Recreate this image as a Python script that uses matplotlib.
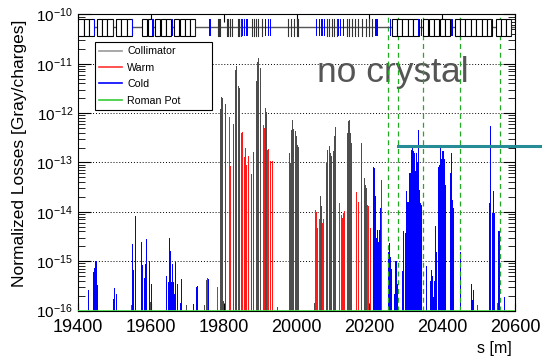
import numpy as np
import matplotlib
matplotlib.use('Agg')
import matplotlib.pyplot as plt
from matplotlib.patches import Rectangle
from matplotlib.lines import Line2D
from matplotlib.ticker import FixedLocator, NullFormatter

plt.rcParams['font.family'] = ['Liberation Sans', 'DejaVu Sans']
plt.rcParams['mathtext.fontset'] = 'custom'
plt.rcParams['mathtext.rm'] = 'Liberation Sans'
plt.rcParams['mathtext.it'] = 'Liberation Sans:italic'

floor = 1e-16

# collimator losses (s [m], value)
coll_s = [19547, 19599, 19697, 19747, 19752, 19756, 19790, 19794, 19796, 19799,
          19805, 19828, 19832, 19836, 19840, 19844, 19877, 19881, 19883, 19891,
          19894, 19897, 19901, 19915, 19918, 19947, 19980, 19983, 19987, 19990,
          19993, 19996, 19999, 20002, 20005, 20049, 20066, 20069, 20083, 20086,
          20090, 20094, 20097, 20101, 20105, 20108, 20140, 20142, 20145, 20148,
          20152, 20179, 20186, 20189, 20193, 20234, 20243, 20497, 20551]
coll_v = [1.3e-16, 1.5e-16, 1.3e-16, 1.3e-16, 4.2e-16, 4.5e-16, 1.2e-12, 2.1e-12, 2.0e-12, 1.55e-16,
          1.5e-12, 6.0e-13, 7.6e-12, 8.9e-12, 3.5e-12, 3.2e-12, 5.8e-14, 7.6e-14, 1.6e-13, 4.4e-12,
          1.07e-11, 1.3e-11, 8.1e-12, 1.3e-12, 1.07e-12, 1.2e-16, 1.55e-13, 9.8e-14, 4.6e-13, 7.2e-13,
          4.8e-13, 4.3e-13, 3.5e-13, 2.3e-13, 2.1e-13, 1.4e-16, 2.1e-14, 1.3e-14, 9.8e-14, 1.8e-13,
          2.2e-13, 1.55e-13, 1.35e-13, 1.7e-13, 3.4e-13, 5.2e-13, 3.9e-13, 6.8e-13, 7.2e-13, 3.9e-13,
          2.5e-13, 2.5e-13, 4.8e-14, 3.5e-14, 3.0e-14, 4.5e-14, 5.0e-15, 1.3e-16, 1.4e-16]

# warm magnet losses
warm_s = [19782, 19815, 19819, 19848, 19853, 19857, 19860, 19864, 19868, 19909,
          19912, 19921, 19924, 19929, 19933, 20051, 20054, 20057, 20063, 20072,
          20075, 20117, 20119, 20123, 20127, 20130, 20133, 20165, 20169, 20195,
          20199, 20202]
warm_v = [2.95e-16, 8.3e-13, 8.5e-14, 3.9e-13, 4.1e-13, 1.3e-13, 2.0e-13, 8.9e-14, 1.35e-13, 5.8e-13,
          5.0e-13, 1.8e-13, 1.9e-13, 1.05e-13, 1.05e-13, 1.1e-14, 1.0e-14, 4.7e-15, 7.2e-15, 6.0e-15,
          7.1e-15, 1.2e-14, 1.5e-14, 8.7e-15, 7.4e-15, 9.3e-15, 1.05e-14, 2.5e-14, 1.6e-14, 1.4e-14,
          1.3e-14, 4.7e-15]

# cold magnet losses
cold_s = [19428, 19442, 19446, 19449, 19452, 19454, 19497, 19500, 19506, 19549,
          19552, 19557, 19559, 19573, 19575, 19577, 19582, 19585, 19587, 19589,
          19595, 19601, 19603, 19642, 19649, 19651, 19653, 19656, 19659, 19662,
          19664, 19667, 19669, 19672, 19681, 19685, 19718, 19725, 19729, 19757,
          19759, 20211, 20213, 20216, 20219, 20222, 20224, 20227, 20231, 20252,
          20255, 20259, 20262, 20268, 20271, 20275, 20278, 20290, 20294, 20298,
          20302, 20305, 20308, 20311, 20314, 20317, 20319, 20322, 20324, 20327,
          20330, 20332, 20335, 20337, 20341, 20344, 20357, 20368, 20371, 20374,
          20376, 20379, 20382, 20385, 20389, 20392, 20395, 20398, 20400, 20403,
          20406, 20409, 20423, 20426, 20429, 20432, 20450, 20481, 20484, 20487,
          20531, 20534, 20537, 20540, 20543, 20554, 20557, 20571]
cold_v = [2.6e-16, 5.9e-16, 7.4e-16, 1.0e-15, 1.0e-15, 3.3e-16, 1.7e-16, 2.9e-16, 2.2e-16, 2.2e-15,
          6.6e-16, 8.3e-15, 8.1e-15, 1.7e-15, 2.4e-15, 8.3e-16, 4.5e-16, 8.7e-16, 2.8e-15, 1.0e-15,
          1.0e-15, 2.9e-16, 3.5e-16, 5.0e-16, 3.8e-16, 2.9e-15, 1.6e-15, 3.8e-16, 8.7e-16, 3.8e-16,
          2.2e-16, 9.5e-16, 2.4e-16, 3.4e-16, 1.4e-16, 4.4e-16, 1.35e-16, 3.0e-16, 3.1e-16, 4.3e-16,
          4.3e-16, 8.1e-14, 7.9e-14, 2.1e-14, 2.9e-15, 4.3e-15, 2.5e-15, 4.3e-15, 1.2e-14, 1.5e-15,
          2.3e-15, 1.2e-15, 6.9e-16, 2.2e-16, 1.0e-15, 1.0e-15, 3.5e-16, 6.2e-16, 4.0e-15, 3.7e-15,
          2.6e-14, 1.6e-14, 1.6e-14, 6.0e-14, 6.0e-14, 1.8e-13, 2.1e-13, 1.7e-13, 1.55e-13, 6.6e-14,
          1.55e-13, 1.0e-13, 4.5e-13, 2.8e-14, 1.5e-14, 1.4e-14, 7.8e-16, 4.0e-16, 6.6e-16, 4.9e-16,
          1.9e-16, 4.0e-16, 5.1e-15, 1.55e-15, 8.1e-14, 8.9e-14, 2.1e-13, 1.2e-13, 1.7e-13, 1.7e-13,
          1.2e-13, 3.5e-14, 6.0e-14, 1.55e-13, 1.7e-14, 1.2e-14, 1.55e-15, 3.5e-16, 1.6e-16, 2.6e-16,
          1.5e-14, 5.5e-13, 9.3e-15, 2.6e-14, 9.3e-15, 4.0e-15, 4.0e-15, 1.9e-16]

# machine layout strip at the top
dipole_s = [19401, 19416, 19431, 19451, 19466, 19481, 19504, 19519, 19534, 19576,
            19591, 19612, 19627, 19642, 19664, 19679, 19694, 19708, 20261, 20276,
            20291, 20306, 20321, 20348, 20363, 20378, 20393, 20408, 20434, 20449,
            20464, 20479, 20494, 20509, 20522, 20547, 20562, 20576]
dipole_len = 14.3
quad_s = [19446, 19498, 19550, 19606, 19659, 19722, 19760, 19764, 19852, 19858,
          19864, 19915, 19922, 19928, 20055, 20062, 20070, 20076, 20116, 20122,
          20128, 20216, 20221, 20257, 20336, 20342, 20427, 20536, 20590]
element_s = [19784, 19787, 19790, 19808, 19812, 19818, 19822, 19840, 19843, 19847,
             19877, 19882, 19888, 19895, 19904, 19978, 19985, 19993, 20000, 20005,
             20083, 20090, 20097, 20104, 20110, 20138, 20145, 20152, 20160, 20170,
             20180, 20190, 20200, 20207]

# roman pot / crystal markers
rp_s = [20250, 20279, 20348, 20449, 20559]
crystal_s = [20279, 20680]
crystal_level = 2.2e-13

y_decades = [1e-16, 1e-15, 1e-14, 1e-13, 1e-12, 1e-11, 1e-10]

fig = plt.figure(figsize=(5.42, 3.56), dpi=100)
ax = fig.add_axes([0.1439, 0.1278, 0.8063, 0.8315])
ax.set_yscale('log')
ax.set_xlim(19400, 20600)
ax.set_ylim(1e-16, 1e-10)
ax.set_yticks(y_decades)
minor = [d * k for d in y_decades[:-1] for k in range(2, 10)]
ax.yaxis.set_minor_locator(FixedLocator(minor))
ax.yaxis.set_minor_formatter(NullFormatter())

ax.grid(axis='y', which='major', linestyle=(0, (1, 2)), color='black', linewidth=0.7)
ax.set_axisbelow(True)

bw = 2.7
ax.bar(coll_s, np.array(coll_v) - floor, bottom=floor, width=bw, color='#4d4d4d', linewidth=0, zorder=3)
ax.bar(warm_s, np.array(warm_v) - floor, bottom=floor, width=bw, color='#ff1a1a', linewidth=0, zorder=3)
ax.bar(cold_s, np.array(cold_v) - floor, bottom=floor, width=bw, color='#0000ff', linewidth=0, zorder=3)

for s in rp_s:
    ax.axvline(s, color='#22aa22', linestyle=(0, (4, 3)), linewidth=0.9, zorder=4)
ax.axhline(floor, color='#44dd44', linewidth=2, zorder=5)

# layout strip
tr = ax.get_xaxis_transform()
y0, y1, ym = 0.927, 0.984, 0.957
ax.plot([19400, 20600], [ym, ym], transform=tr, color='#555555', linewidth=1, zorder=5)
for s in dipole_s:
    ax.add_patch(Rectangle((s, y0), dipole_len, y1 - y0, transform=tr, facecolor='white',
                           edgecolor='black', linewidth=0.8, zorder=6))
for s in element_s:
    ax.plot([s, s], [y0, y1], transform=tr, color='#333333', linewidth=0.8, zorder=6)
for s in quad_s:
    ax.add_patch(Rectangle((s - 1.5, y0), 3, y1 - y0, transform=tr, facecolor='#0000ff',
                           edgecolor='none', zorder=7))

ax.plot(crystal_s, [crystal_level, crystal_level], color='#268c96', linewidth=2.2,
        clip_on=False, zorder=8)
ax.text(0.547, 0.772, 'no crystal', transform=ax.transAxes, fontsize=25.5,
        color='#555555', va='baseline', ha='left')

handles = [Line2D([], [], color='#999999', lw=1.2), Line2D([], [], color='#ff3333', lw=1.2),
           Line2D([], [], color='#0000ff', lw=1.2), Line2D([], [], color='#33cc33', lw=1.2)]
leg = ax.legend(handles, ['Collimator', 'Warm', 'Cold', 'Roman Pot'],
                loc='upper left', bbox_to_anchor=(0.039, 0.684, 0.268, 0.223), mode='expand',
                borderaxespad=0, fontsize=7.7, frameon=True, fancybox=False, edgecolor='black',
                framealpha=1, labelspacing=0.6, handlelength=2.1, handletextpad=0.5)
leg.get_frame().set_linewidth(0.8)
leg.set_zorder(10)

ax.set_xticks([19400, 19600, 19800, 20000, 20200, 20400, 20600])
ax.tick_params(axis='both', which='both', direction='in', top=True, right=True)
ax.tick_params(axis='y', which='major', length=9, labelsize=11)
ax.tick_params(axis='y', which='minor', length=5)
ax.tick_params(axis='x', which='major', length=6, labelsize=13, pad=6)

ax.set_ylabel('Normalized Losses [Gray/charges]', fontsize=12.5)
ax.yaxis.set_label_coords(-0.133, 0.53)
ax.yaxis.label.set_va('center')
ax.set_xlabel('s [m]', fontsize=11.5)
ax.xaxis.set_label_coords(0.993, -0.127)
ax.xaxis.label.set_ha('right')
ax.xaxis.label.set_va('center')

fig.savefig('out.png', dpi=100)
